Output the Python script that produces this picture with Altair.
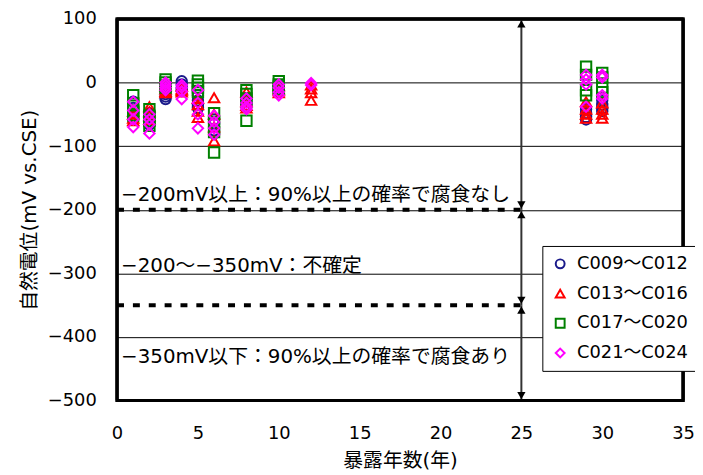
import altair as alt
import pandas as pd

series_names = ["C009～C012", "C013～C016", "C017～C020", "C021～C024"]
series_colors = ["#1a1a8a", "#ff0000", "#008000", "#ff00ff"]
series_shapes = ["circle", "triangle-up", "square", "diamond"]

# exposure years and potentials (mV vs. CSE), four specimens per series
c009 = {1: [-30, -40, -48, -55], 2: [-48, -55, -62, -66], 3: [-12, -18, -22, -26],
        4: [2, -3, -8, -12], 5: [-20, -28, -35, -40], 6: [-58, -65, -75, -80],
        8: [-25, -30, -35, -38], 10: [-4, -8, -12, -15],
        29: [-42, -48, -54, -58], 30: [-28, -35, -40, -45]}
c013 = {1: [-45, -50, -56, -60], 2: [-38, -46, -52, -58], 3: [-5, -10, -14, -16],
        4: [-6, -10, -12, -15], 5: [-25, -35, -45, -55], 6: [-24, -50, -70, -92],
        8: [-15, -30, -36, -40], 10: [-5, -10, -13, -16], 12: [-4, -10, -16, -28],
        29: [-30, -42, -50, -56], 30: [-32, -42, -50, -56]}
c017 = {1: [-20, -33, -44, -52], 2: [-42, -52, -60, -68], 3: [5, 0, -5, -8],
        5: [3, -3, -8, -15], 6: [-48, -62, -78, -110], 8: [-12, -18, -25, -60],
        10: [2, -3, -6, -10], 29: [25, 12, -12, -20], 30: [15, 8, -8, -15]}
c021 = {1: [-30, -44, -58, -70], 2: [-50, -58, -66, -80], 3: [0, -4, -8, -12],
        4: [-4, -8, -14, -26], 5: [-12, -32, -50, -72], 6: [-52, -62, -72, -82],
        8: [-25, -32, -38, -42], 10: [-3, -8, -15, -20], 12: [-1, -4],
        29: [12, 5, -3, -38], 30: [12, 8, -20, -25]}

x_ticks = [0, 5, 10, 15, 20, 25, 30, 35]
y_ticks = [-500, -400, -300, -200, -100, 0, 100]
x_domain = [0, 35]
y_domain = [-500, 100]

threshold_levels = [-200, -350]
threshold_end = 25.4
arrow_x = 25
arrow_segments = [(100, -200), (-200, -350), (-350, -500)]

zone_labels = ["−200mV以上：90%以上の確率で腐食なし",
               "−200〜−350mV：不確定",
               "−350mV以下：90%以上の確率で腐食あり"]
zone_label_y = [-177, -288, -431]
zone_label_x = [0.25, 0.25, 0.25]

rows = []
for name, d in zip(series_names, [c009, c013, c017, c021]):
    for yr, vals in d.items():
        for v in vals:
            rows.append({"year": yr, "mv": v, "series": name})
pts = pd.DataFrame(rows)

xs = alt.Scale(domain=x_domain, nice=False, zero=False)
ys = alt.Scale(domain=y_domain, nice=False, zero=False)

LAT = "DejaVu Sans, Noto Sans CJK JP"
CJK = "DejaVu Sans, Noto Sans CJK JP"

x_axis = alt.Axis(values=x_ticks, title="暴露年数(年)", grid=False, ticks=False,
                  domain=False, labelFontSize=18, labelFont=LAT, labelPadding=24,
                  labelFlush=False, titleFont=CJK, titleFontSize=20,
                  titleFontWeight="normal", titlePadding=8, titleColor="black",
                  labelColor="black")
y_axis = alt.Axis(values=y_ticks, title="自然電位(mV vs.CSE)", grid=True,
                  gridColor="black", gridWidth=1, gridOpacity=1, ticks=False,
                  domain=False, labelFontSize=18, labelFont=LAT, labelPadding=21,
                  labelFlush=False, titleFont=CJK, titleFontSize=20,
                  titleFontWeight="normal", titlePadding=8, titleColor="black",
                  labelColor="black")

# plot frame drawn from the scale domains
vert = pd.DataFrame({"fx": x_domain, "fy0": [y_domain[0]] * 2, "fy1": [y_domain[1]] * 2})
horz = pd.DataFrame({"fy": y_domain, "fx0": [x_domain[0]] * 2, "fx1": [x_domain[1]] * 2})
frame_v = alt.Chart(vert).mark_rule(color="#000000", strokeWidth=3, opacity=1).encode(
    x=alt.X("fx:Q", scale=xs, axis=x_axis), y=alt.Y("fy0:Q", scale=ys, axis=y_axis),
    y2="fy1:Q")
frame_h = alt.Chart(horz).mark_rule(color="#000000", strokeWidth=3, opacity=1).encode(
    y=alt.Y("fy:Q", scale=ys, axis=y_axis), x=alt.X("fx0:Q", scale=xs, axis=x_axis),
    x2="fx1:Q")
frame_box = alt.Chart(pd.DataFrame({"bx0": [x_domain[0]], "bx1": [x_domain[1]],
                                    "by0": [y_domain[0]], "by1": [y_domain[1]]})).mark_rect(
    fillOpacity=0, stroke="#000000", strokeWidth=3, strokeOpacity=1).encode(
    x=alt.X("bx0:Q", scale=xs, axis=x_axis), x2="bx1:Q",
    y=alt.Y("by0:Q", scale=ys, axis=y_axis), y2="by1:Q")

points = alt.Chart(pts).mark_point(filled=False, strokeWidth=2, opacity=1, size=110).encode(
    x=alt.X("year:Q", scale=xs, axis=x_axis),
    y=alt.Y("mv:Q", scale=ys, axis=y_axis),
    color=alt.Color("series:N", scale=alt.Scale(domain=series_names, range=series_colors),
                    legend=alt.Legend(title=None, orient="none", legendX=429, legendY=229,
                                      padding=9, rowPadding=12, fillColor="white",
                                      strokeColor="black", labelFontSize=18,
                                      labelFont=LAT, labelColor="black", symbolSize=80,
                                      symbolStrokeWidth=2, labelOffset=8, cornerRadius=0)),
    shape=alt.Shape("series:N", scale=alt.Scale(domain=series_names, range=series_shapes)),
)

thr = pd.DataFrame({"level": threshold_levels, "x0": [0] * len(threshold_levels),
                    "x1": [threshold_end] * len(threshold_levels)})
dashed = alt.Chart(thr).mark_rule(color="black", strokeWidth=4, strokeDash=[7, 9]).encode(
    x=alt.X("x0:Q", scale=xs, axis=x_axis), x2="x1:Q",
    y=alt.Y("level:Q", scale=ys, axis=y_axis))

seg = pd.DataFrame({"x": [arrow_x] * 3, "top": [a for a, b in arrow_segments],
                    "bot": [b for a, b in arrow_segments]})
shafts = alt.Chart(seg).mark_rule(color="#333333", strokeWidth=2).encode(
    x=alt.X("x:Q", scale=xs, axis=x_axis), y=alt.Y("top:Q", scale=ys, axis=y_axis), y2="bot:Q")
heads_up = alt.Chart(seg).mark_point(shape="triangle-up", filled=True, color="black",
                                     size=70, opacity=1, yOffset=5).encode(
    x=alt.X("x:Q", scale=xs, axis=x_axis), y=alt.Y("top:Q", scale=ys, axis=y_axis))
heads_dn = alt.Chart(seg).mark_point(shape="triangle-down", filled=True, color="black",
                                     size=70, opacity=1, yOffset=-5).encode(
    x=alt.X("x:Q", scale=xs, axis=x_axis), y=alt.Y("bot:Q", scale=ys, axis=y_axis))

lab = pd.DataFrame({"t": zone_labels, "x": zone_label_x, "y": zone_label_y})
texts = alt.Chart(lab).mark_text(align="left", baseline="middle", font=CJK, fontSize=20,
                                 color="black").encode(
    x=alt.X("x:Q", scale=xs, axis=x_axis), y=alt.Y("y:Q", scale=ys, axis=y_axis), text="t:N")

chart = alt.layer(frame_box, dashed, shafts, heads_up, heads_dn, texts, points,
                  frame_v, frame_h).properties(
    width=571, height=385,
    background="white",
    padding={"left": 110, "top": 9, "right": 12, "bottom": 73},
    autosize=alt.AutoSizeParams(type="none"),
).configure_view(stroke="black", strokeWidth=3)

chart.save("out.html", embed_options={"renderer": "svg", "actions": False})
